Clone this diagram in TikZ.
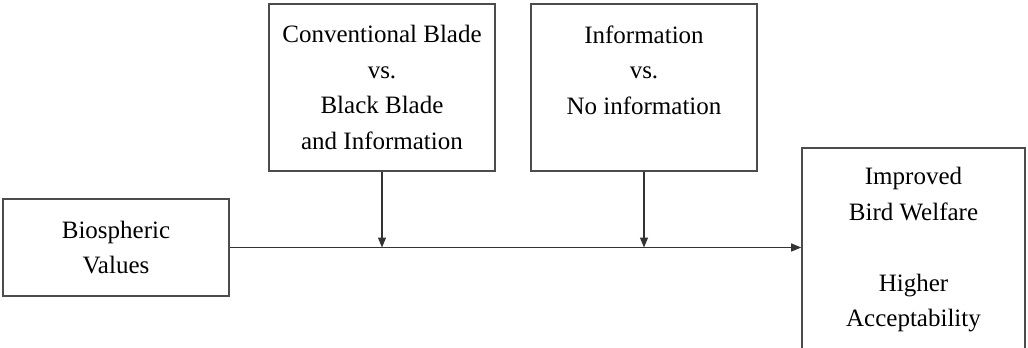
\documentclass[tikz,border=0pt]{standalone}
\usepackage{fontspec}
\setmainfont{Liberation Serif}
\usetikzlibrary{arrows.meta}
\begin{document}
\begin{tikzpicture}[x=0.5pt,y=-0.5pt,
  box/.style={draw=black!70, line width=0.8pt, rectangle, align=center,
    font=\fontsize{12.5}{17.75}\selectfont, inner sep=0pt, text=black},
  arr/.style={draw=black!80, line width=0.6pt, -{Triangle[length=5pt,width=4pt]}}]
\useasboundingbox (0,0) rectangle (1028,348);
\node[box, minimum width=113pt, minimum height=48.5pt] (bio) at (116,247.5) {Biospheric\\Values};
\node[box, minimum width=113pt, minimum height=83.5pt] (blade) at (382,87.5) {Conventional Blade\\vs.\\Black Blade\\and Information};
\node[box, minimum width=113pt, minimum height=83.5pt] (info) at (644,87.5) {Information\\vs.\\No information\\\mbox{}};
\node[box, minimum width=111.5pt, minimum height=102pt] (out) at (913.5,250) {Improved\\Bird Welfare\\[17.75pt]Higher\\Acceptability};
\coordinate (end) at (bio.east -| out.west);
\coordinate (m1) at (blade.south |- bio.east);
\coordinate (m2) at (info.south |- bio.east);
\draw[arr] (bio.east) -- (end);
\draw[arr] (blade.south) -- (m1);
\draw[arr] (info.south) -- (m2);
\end{tikzpicture}
\end{document}
